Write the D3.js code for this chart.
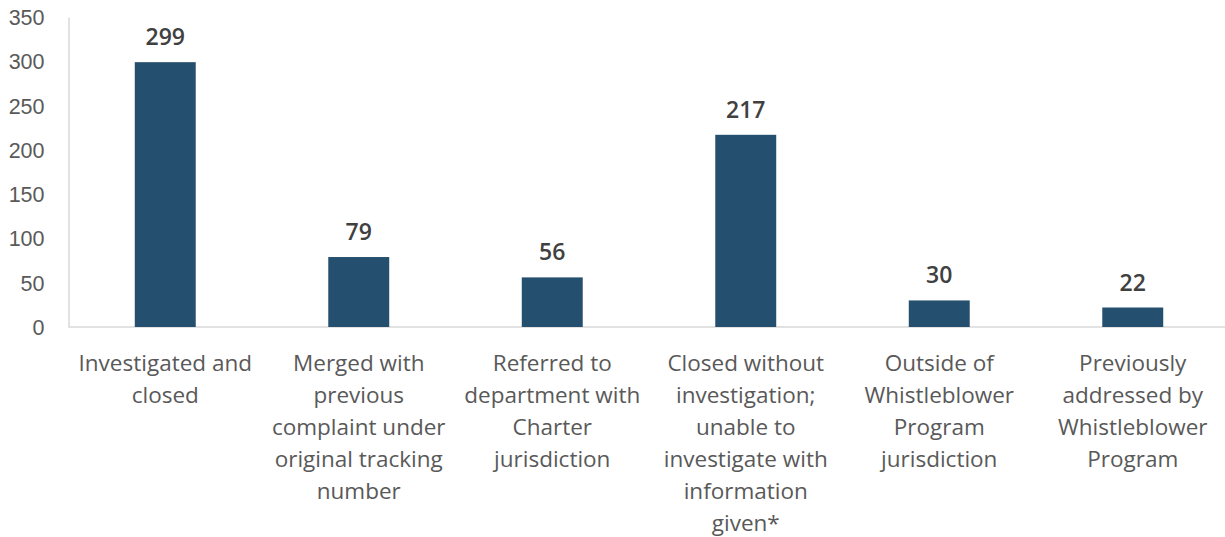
<!DOCTYPE html>
<html>
<head>
<meta charset="utf-8">
<script src="https://cdn.jsdelivr.net/npm/d3@7"></script>
<style>
  html, body { margin: 0; padding: 0; background: #fff; }
  svg { display: block; font-family: "Open Sans", "Noto Sans", sans-serif; }
</style>
</head>
<body>
<svg id="chart" width="1225" height="537"></svg>
<script>
// Complaint outcomes and their counts
const categories = [
  ["Investigated and", "closed"],
  ["Merged with", "previous", "complaint under", "original tracking", "number"],
  ["Referred to", "department with", "Charter", "jurisdiction"],
  ["Closed without", "investigation;", "unable to", "investigate with", "information", "given*"],
  ["Outside of", "Whistleblower", "Program", "jurisdiction"],
  ["Previously", "addressed by", "Whistleblower", "Program"]
];
const counts = [299, 79, 56, 217, 30, 22];
const yTicks = [0, 50, 100, 150, 200, 250, 300, 350];

const svg = d3.select("#chart");
const margin = { left: 68.5, right: -4.5, top: 17, bottom: 210 };
const width = 1225, height = 537;

const keys = categories.map((c, i) => i);
const x = d3.scaleBand()
  .domain(keys)
  .range([margin.left, width - margin.right])
  .paddingInner(0.685)
  .paddingOuter(0.3425);

const y = d3.scaleLinear()
  .domain([0, 350])
  .range([height - margin.bottom, margin.top]);

// Y axis: labels only, plus a light vertical line
const yAxis = d3.axisLeft(y).tickValues(yTicks).tickSize(0).tickPadding(24);
const gy = svg.append("g")
  .attr("transform", `translate(${margin.left},0)`)
  .call(yAxis);
gy.select(".domain").attr("stroke", "#d9d9d9").attr("stroke-width", 1.5);
gy.selectAll("text")
  .attr("fill", "#595959")
  .style("font-size", "21.5px")
  .attr("dy", "0.35em");

// X baseline
svg.append("line")
  .attr("x1", margin.left).attr("x2", width)
  .attr("y1", y(0)).attr("y2", y(0))
  .attr("stroke", "#d9d9d9").attr("stroke-width", 1.5);

// Bars
svg.append("g").selectAll("rect")
  .data(counts)
  .join("rect")
  .attr("x", (d, i) => x(i))
  .attr("width", x.bandwidth())
  .attr("y", d => y(d))
  .attr("height", d => y(0) - y(d))
  .attr("fill", "#244f6e");

// Value labels
svg.append("g").selectAll("text")
  .data(counts)
  .join("text")
  .attr("x", (d, i) => x(i) + x.bandwidth() / 2)
  .attr("y", d => y(d) - 17)
  .attr("text-anchor", "middle")
  .attr("fill", "#404040")
  .style("font-size", "23px")
  .style("font-weight", "600")
  .text(d => d);

// Category labels, wrapped
const lab = svg.append("g").selectAll("text")
  .data(categories)
  .join("text")
  .attr("x", (d, i) => x(i) + x.bandwidth() / 2)
  .attr("y", y(0) + 44)
  .attr("text-anchor", "middle")
  .attr("fill", "#595959")
  .style("font-size", "22.5px");
lab.each(function(lines, i) {
  const t = d3.select(this);
  lines.forEach((ln, j) => {
    t.append("tspan")
      .attr("x", x(i) + x.bandwidth() / 2)
      .attr("dy", j === 0 ? 0 : 32)
      .text(ln);
  });
});
</script>
</body>
</html>
